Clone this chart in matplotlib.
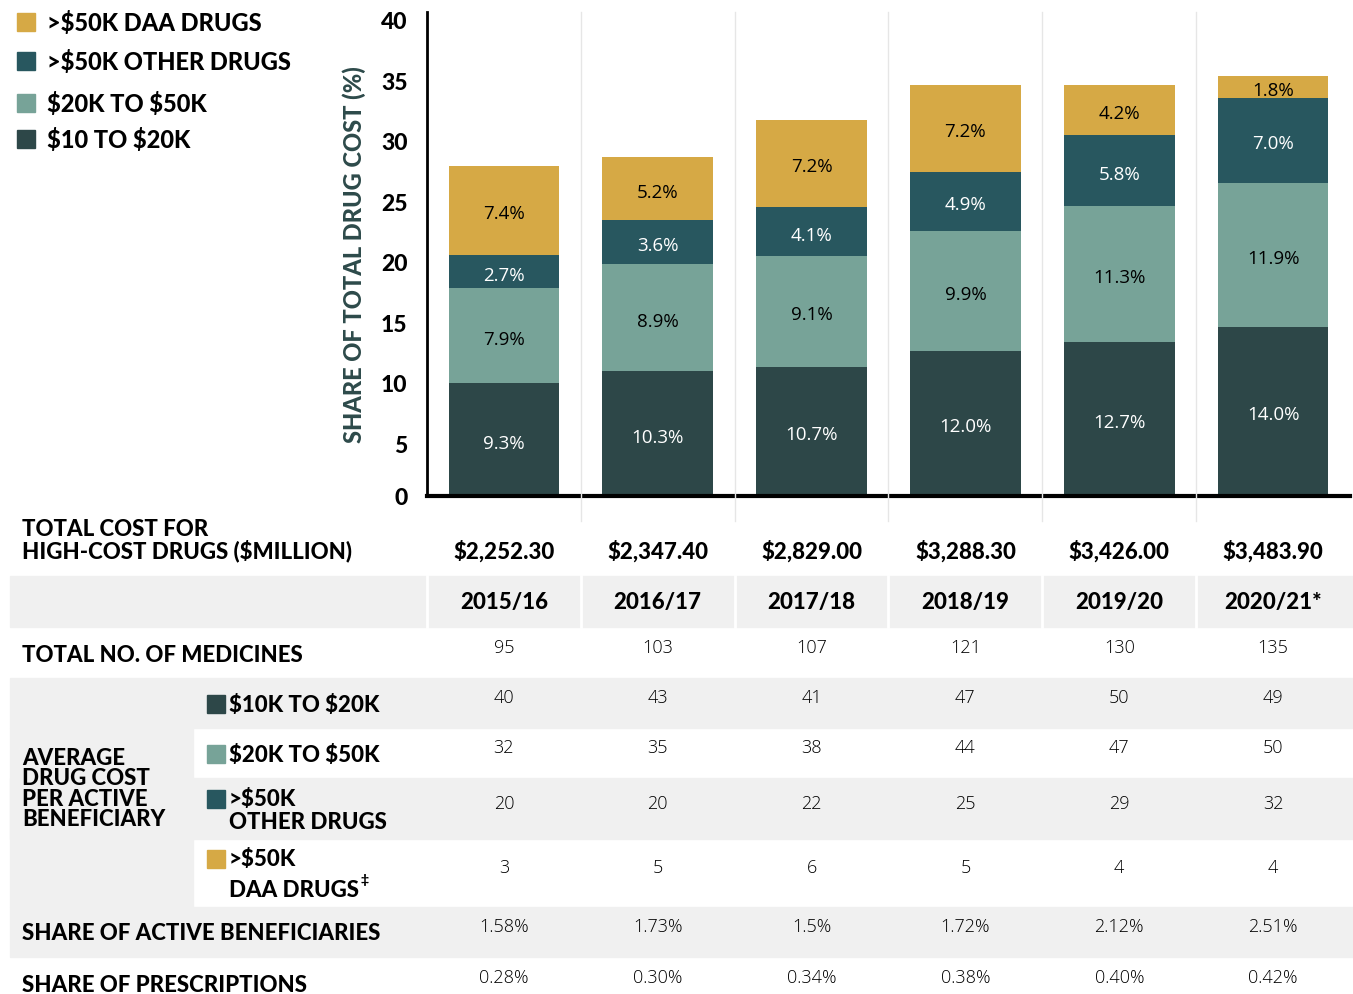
import matplotlib
matplotlib.use("Agg")
import matplotlib.pyplot as plt
import matplotlib.transforms as mtrans
from matplotlib.patches import Rectangle
from matplotlib.lines import Line2D

# ---------------- data ----------------
years = ['2015/16', '2016/17', '2017/18', '2018/19', '2019/20', '2020/21*']
seg_10_20 = [9.3, 10.3, 10.7, 12.0, 12.7, 14.0]
seg_20_50 = [7.9, 8.9, 9.1, 9.9, 11.3, 11.9]
seg_50_other = [2.7, 3.6, 4.1, 4.9, 5.8, 7.0]
seg_50_daa = [7.4, 5.2, 7.2, 7.2, 4.2, 1.8]
series_names = [r'\$10 TO \$20K', r'\$20K TO \$50K', r'>\$50K OTHER DRUGS', r'>\$50K DAA DRUGS']

total_cost = [2252.30, 2347.40, 2829.00, 3288.30, 3426.00, 3483.90]
n_medicines = [95, 103, 107, 121, 130, 135]
avg_10_20 = [40, 43, 41, 47, 50, 49]
avg_20_50 = [32, 35, 38, 44, 47, 50]
avg_50_other = [20, 20, 22, 25, 29, 32]
avg_50_daa = [3, 5, 6, 5, 4, 4]
share_benef = ['1.58%', '1.73%', '1.5%', '1.72%', '2.12%', '2.51%']
share_presc = ['0.28%', '0.30%', '0.34%', '0.38%', '0.40%', '0.42%']
yticks = [0, 5, 10, 15, 20, 25, 30, 35, 40]

# ---------------- style ----------------
C_LOW = '#2D4748'
C_MID = '#77A398'
C_OTH = '#28575F'
C_DAA = '#D6A945'
colors = [C_LOW, C_MID, C_OTH, C_DAA]
txtcol = ['white', 'black', 'white', 'black']
GRAY = '#F0F0F0'
HEAD = ['Lato', 'DejaVu Sans']
LIGHT = ['Open Sans', 'DejaVu Sans']

W, H = 1353, 995
fig = plt.figure(figsize=(W / 100, H / 100), dpi=100)
pix = mtrans.Affine2D().scale(1 / W, -1 / H).translate(0, 1) + fig.transFigure

ax = fig.add_axes([427 / W, (H - 497) / H, (1350 - 427) / W, (497 - 13) / H])
ax.set_xlim(-0.5, 5.5)
ax.set_ylim(0, 40)
x = list(range(len(years)))
bottoms = [0.0] * len(years)
for vals, col, tc in zip([seg_10_20, seg_20_50, seg_50_other, seg_50_daa], colors, txtcol):
    ax.bar(x, vals, bottom=bottoms, width=0.72, color=col, zorder=3)
    for i, v in enumerate(vals):
        ax.text(i, bottoms[i] + v / 2 - 0.25, f'{v:.1f}%', ha='center', va='center',
                color=tc, fontsize=13.5, family=LIGHT, fontweight='normal', zorder=4)
    bottoms = [b + v for b, v in zip(bottoms, vals)]

for s in ['top', 'right']:
    ax.spines[s].set_visible(False)
ax.spines['left'].set_linewidth(2)
ax.spines['bottom'].set_linewidth(3)
ax.spines['left'].set_zorder(5)
ax.spines['bottom'].set_zorder(5)
ax.set_xticks([])
ax.set_yticks(yticks)
ax.set_yticklabels([str(t) for t in yticks], fontsize=16.5, family=HEAD, fontweight='black')
ax.tick_params(axis='y', length=0, pad=14)
off = mtrans.ScaledTranslation(0, -8 / 100, fig.dpi_scale_trans)
for lab in ax.get_yticklabels()[1:]:
    lab.set_transform(lab.get_transform() + off)
ax.set_ylabel('SHARE OF TOTAL DRUG COST (%)', fontsize=17, family=HEAD,
              fontweight='black', color='#2D4A4A')
ax.yaxis.set_label_coords(-0.066, 0.5)

# column separators (light gray)
blended = mtrans.blended_transform_factory(ax.transData, pix)
for b in [0.5, 1.5, 2.5, 3.5, 4.5]:
    fig.add_artist(Line2D([b, b], [13, 522], transform=blended, color='#E6E6E6', lw=1, zorder=1))

# legend
leg_y = [23, 62, 104, 140]
for yy, col, name in zip(leg_y, [C_DAA, C_OTH, C_MID, C_LOW], series_names[::-1]):
    fig.add_artist(Rectangle((17, yy - 9), 18, 18, transform=pix, color=col))
    fig.text(47, yy, name, transform=pix, fontsize=17, family=HEAD, fontweight='black',
             va='center', ha='left')

# ---------------- table ----------------
def band(y0, y1, x0=10, x1=1353):
    fig.add_artist(Rectangle((x0, y0), x1 - x0, y1 - y0, transform=pix, color=GRAY, zorder=0))

band(577, 628)
band(679, 729)
band(729, 908, 10, 193)
band(779, 840)
band(908, 958)
# white separators in year row
for b in [-0.5, 0.5, 1.5, 2.5, 3.5, 4.5]:
    fig.add_artist(Line2D([b, b], [577, 628], transform=blended, color='white', lw=2, zorder=1))

def hlabel(xp, yp, s, fs=16, **kw):
    fig.text(xp, yp, s, transform=pix, fontsize=fs, family=HEAD, fontweight='black',
             va='center', ha='left', **kw)

hlabel(22, 530, 'TOTAL COST FOR')
hlabel(22, 551, r'HIGH-COST DRUGS (\$MILLION)')
hlabel(22, 655, 'TOTAL NO. OF MEDICINES')
fig.text(22, 789, 'AVERAGE\nDRUG COST\nPER ACTIVE\nBENEFICIARY', transform=pix, fontsize=16,
         family=HEAD, fontweight='black', va='center', ha='left', linespacing=0.98)
hlabel(22, 934, 'SHARE OF ACTIVE BENEFICIARIES')
hlabel(22, 985, 'SHARE OF PRESCRIPTIONS')

sub = [(705, r'\$10K TO \$20K', C_LOW, 705, 1.15),
       (755, r'\$20K TO \$50K', C_MID, 755, 1.15),
       (811, '>$50K\nOTHER DRUGS', C_OTH, 800, 1.1),
       (875, '>$50K\nDAA DRUGS', C_DAA, 860, 1.55)]
for yy, s, col, sq, ls in sub:
    fig.add_artist(Rectangle((207, sq - 9), 18, 18, transform=pix, color=col))
    fig.text(229, yy, s, transform=pix, fontsize=16, family=HEAD, fontweight='black',
             va='center', ha='left', linespacing=ls)
# double-dagger footnote mark after "DAA DRUGS"
fig.text(361, 880, '\u2021', transform=pix, fontsize=10, family=HEAD, fontweight='black',
         va='center', ha='left')

for i in x:
    fig.text(i, 551, f'\\${total_cost[i]:,.2f}', transform=blended, fontsize=16, family=HEAD,
             fontweight='black', ha='center', va='center')
    fig.text(i, 603, years[i], transform=blended, fontsize=16, family=HEAD,
             fontweight='black', ha='center', va='center')
    for yy, vals in [(648, n_medicines), (698, avg_10_20), (748, avg_20_50),
                     (804, avg_50_other), (868, avg_50_daa)]:
        fig.text(i, yy, str(vals[i]), transform=blended, fontsize=13, family=LIGHT,
                 fontweight='light', ha='center', va='center')
    fig.text(i, 927, share_benef[i], transform=blended, fontsize=13, family=LIGHT,
             fontweight='light', ha='center', va='center')
    fig.text(i, 978, share_presc[i], transform=blended, fontsize=13, family=LIGHT,
             fontweight='light', ha='center', va='center')

fig.savefig('out.png', dpi=100)
